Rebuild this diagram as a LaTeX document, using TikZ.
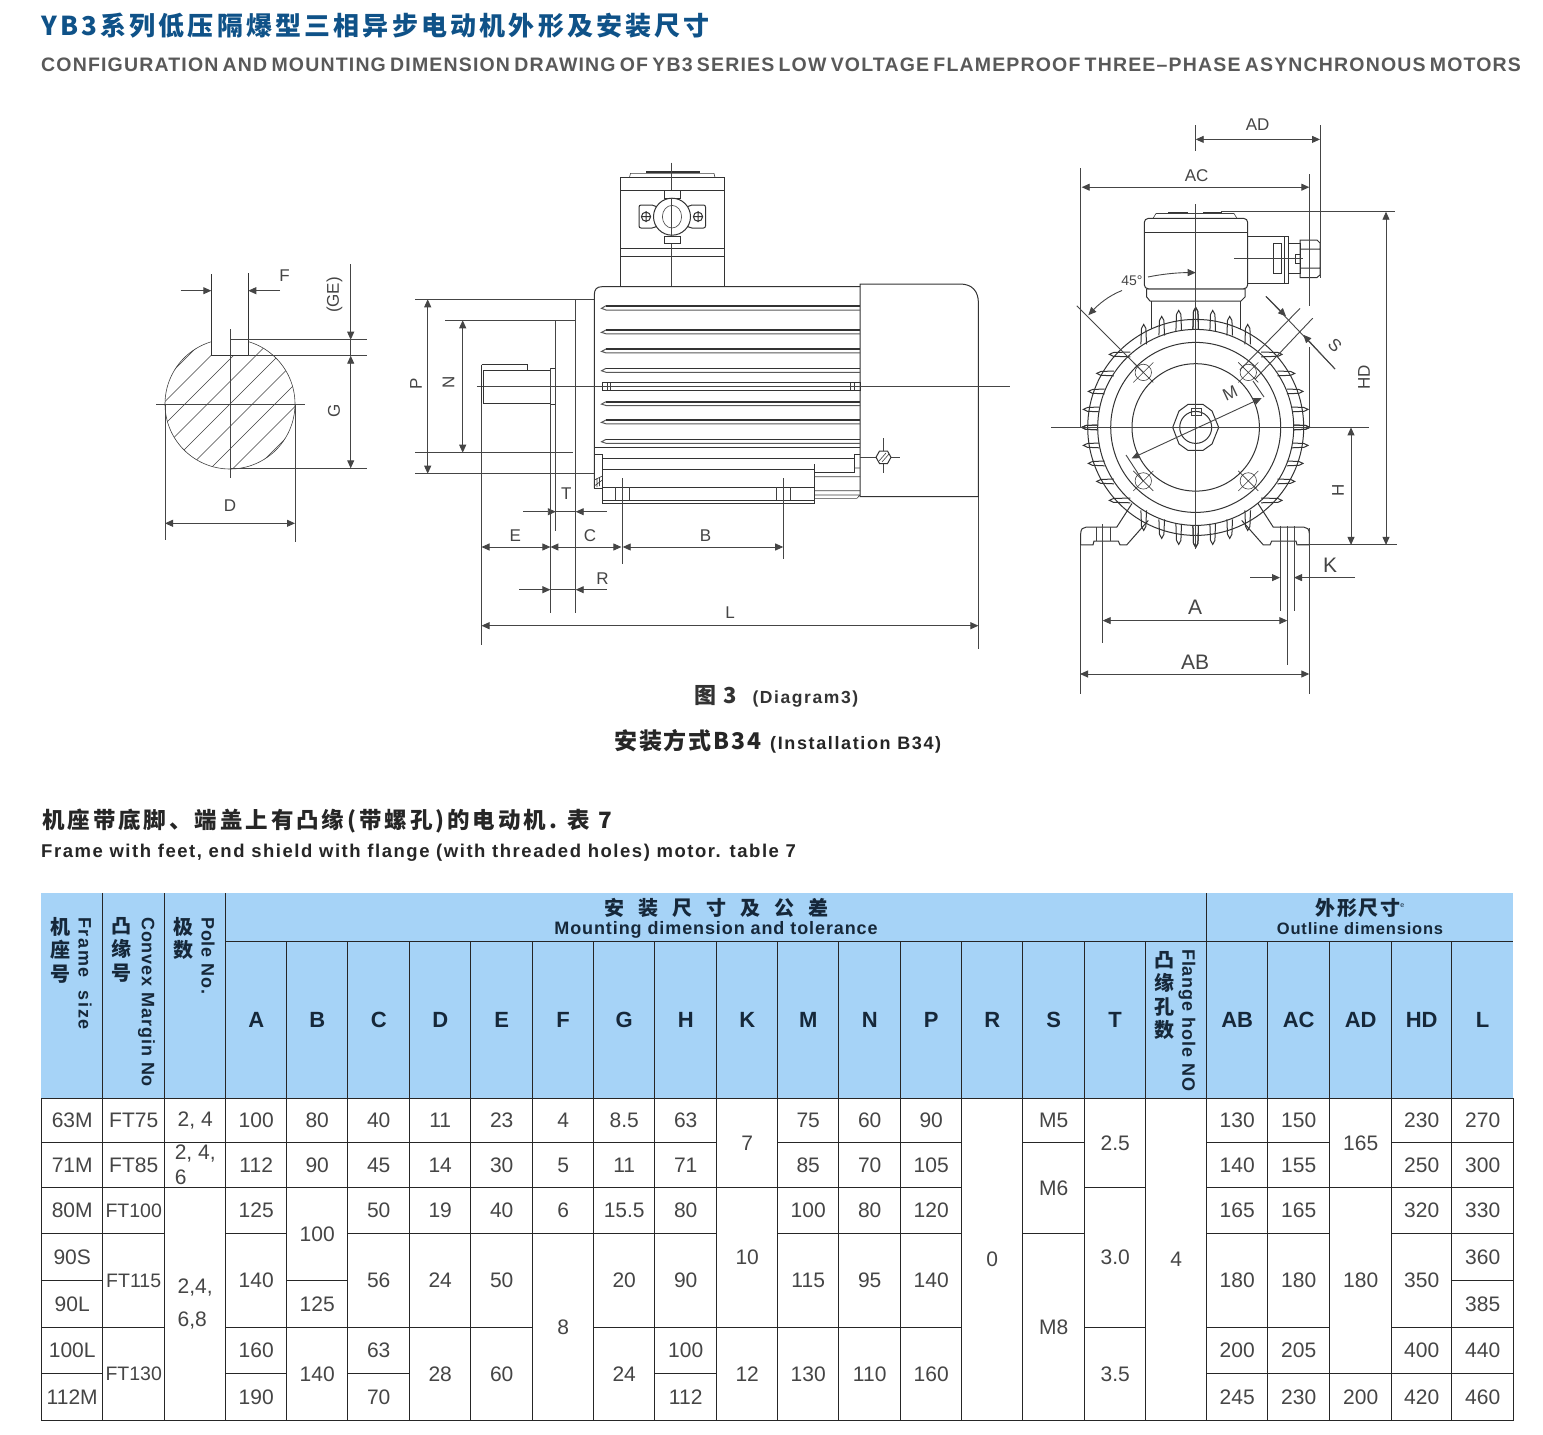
\documentclass[tikz,border=0pt]{standalone}
\usepackage{fontspec}
\setmainfont{Liberation Sans}
\newfontfamily\cjk{Noto Sans CJK SC}
\newfontfamily\wide[LetterSpace=5]{Liberation Sans}
\newfontfamily\wider[LetterSpace=9]{Liberation Sans}
\newfontfamily\medwide[LetterSpace=8.3]{Liberation Sans}
\newfontfamily\capsline[LetterSpace=6,WordSpace=0.65]{Liberation Sans}
\usetikzlibrary{arrows.meta}
\definecolor{headblue}{HTML}{A6D3F7}
\definecolor{titleblue}{HTML}{0F5288}
\definecolor{inkgray}{HTML}{454545}
\definecolor{headink}{HTML}{16283A}
\def\colx{{41,102,164,225,286,347,409,470,532,593,654,716,777,838,900,961,1022,1084,1145,1206,1267,1329,1391,1451,1513}}
\def\rowy{{1098,1142,1187,1233,1280,1327,1373,1420}}
\newcommand{\ftcell}[1]{\fontsize{19.5}{20}\selectfont #1}
\newcommand{\tabcol}[2]{%
  \foreach \ra/\rb/\txt in {#2}{%
    \pgfmathsetmacro\xa{\colx[#1]}%
    \pgfmathsetmacro\xb{\colx[#1+1]}%
    \pgfmathsetmacro\ya{\rowy[\ra]}%
    \pgfmathsetmacro\yb{\rowy[\rb+1]}%
    \draw[tabline] (\xa,\ya) rectangle (\xb,\yb);
    \node[cell] (cell#1-\ra) at ({(\xa+\xb)/2+0.7},{(\ya+\yb)/2+0.5}) {\txt};
  }}
\begin{document}
\begin{tikzpicture}[x=1pt,y=-1pt,>={Triangle[length=8pt,width=7pt]},
  part/.style={draw=black!80,line width=1pt},
  thin part/.style={draw=black!75,line width=0.6pt},
  dimline/.style={draw=inkgray,line width=0.9pt},
  dimlabel/.style={inner sep=0pt,text=inkgray,font=\fontsize{17}{17}\selectfont},
  biglabel/.style={dimlabel,font=\fontsize{21}{21}\selectfont},
  tabline/.style={draw=black!85,line width=0.9pt},
  cell/.style={inner sep=0pt,text=inkgray,align=left,font=\fontsize{21}{25}\selectfont},
  headcell/.style={inner sep=0pt,text=headink,font=\fontsize{22}{22}\selectfont\bfseries},
  headrot/.style={inner sep=0pt,text=headink,rotate=-90,anchor=west,font=\fontsize{18}{18}\wide\bfseries},
  headcjk/.style={inner sep=0pt,text=headink,anchor=north,align=center,font=\fontsize{20}{23.5}\cjk\bfseries}]
  \useasboundingbox (0,0) rectangle (1543,1435);
  \fill[white] (0,0) rectangle (1543,1435);

  \node[anchor=west,inner sep=0pt,text=titleblue] (title) at (41,26)
    {\fontsize{26}{26}\cjk\bfseries\addfontfeature{LetterSpace=12.2}YB3系列低压隔爆型三相异步电动机外形及安装尺寸};
  \node[anchor=west,inner sep=0pt,text=black!65] (subtitle) at (41,65)
    {\fontsize{19.5}{20}\capsline\bfseries CONFIGURATION AND MOUNTING DIMENSION DRAWING OF YB3 SERIES LOW VOLTAGE FLAMEPROOF THREE–PHASE ASYNCHRONOUS MOTORS};

  \draw[thin part] (230,404) circle[radius=65pt];
  \begin{scope}
    \clip plot[domain=106.5:433.5,samples=90] ({230+65*cos(\x)},{404-65*sin(\x)}) -- (248.3,355.3) -- (211.3,355.3) -- cycle;
    \foreach \k in {-4,...,4}
      \draw[thin part] ({634+\k*22.5-300},300) -- ({634+\k*22.5-500},500);
  \end{scope}
  \fill[white] (212,330) rectangle (248,354.8);
  \draw[part] (211.3,274) -- (211.3,355.3) -- (248.3,355.3) -- (248.3,273);
  \draw[dimline] (156,404) -- (305,404) (230,329) -- (230,478);
  \draw[dimline] (230,339.7) -- (366.7,339.7) (248.3,355.7) -- (366.7,355.7) (230,468.3) -- (366.7,468.3);
  \draw[dimline] (165,404) -- (165,540) (295,404) -- (295,541.7);
  \draw[dimline,->] (180.7,290.7) -- (211.3,290.7);
  \draw[dimline,->] (280,290.7) -- (248.3,290.7);
  \draw[dimline,->] (350.7,264) -- (350.7,339.7);
  \draw[dimline,<->] (350.7,355.7) -- (350.7,468.3);
  \draw[dimline] (350.7,339.7) -- (350.7,355.7);
  \draw[dimline,<->] (165,523.3) -- (295,523.3);
  \node[dimlabel] (lblF) at (284.5,276) {F};
  \node[dimlabel,rotate=90] (lblGE) at (334.5,295) {(GE)};
  \node[dimlabel,rotate=90] (lblG) at (334,410.5) {G};
  \node[dimlabel] (lblD) at (230,506) {D};

  \draw[part] (620,177.3) rectangle (724,286.7);
  \draw[part] (620,190.7) -- (724,190.7) (620,248.3) -- (724,248.3) (620,256.7) -- (724,256.7);
  \draw[thin part] (629.5,177.3) -- (630.5,173.3) -- (714,173.3) -- (715,177.3);
  \draw[part,line width=1.5pt] (646,172) -- (699.7,172);
  \draw[dimline] (671,162.7) -- (671,286.7);
  \draw[part,fill=white] (664,190.7) rectangle (680,198.3) (664,236) rectangle (680,243.3);
  \draw[part,fill=white,rounded corners=2pt] (639,205) -- (654,205) -- (660,210) -- (660,224) -- (654,228) -- (639,228) -- cycle;
  \draw[part,fill=white,rounded corners=2pt] (705.5,205) -- (690,205) -- (684,210) -- (684,224) -- (690,228) -- (705.5,228) -- cycle;
  \draw[part,fill=white] (672,216.7) circle[radius=18.5pt];
  \draw[thin part] (672,216.7) circle[x radius=9.6pt,y radius=11.3pt];
  \foreach \sx in {646,698}{
    \draw[part] (\sx,216.7) circle[radius=4.6pt] (\sx-5,216.7) -- (\sx+5,216.7) (\sx,211) -- (\sx,222);
  }
  \draw[dimline] (671,198.3) -- (671,236);

  \draw[part] (594.3,488.3) -- (594.3,295) .. controls (594.3,289) and (597,286.7) .. (602,286.7) -- (860,286.7);
  \draw[part] (860,284) -- (960,284) .. controls (972,284) and (978.4,291) .. (978.4,303) -- (978.4,496.7) -- (860,496.7) -- cycle;
  \foreach \ya/\yb in {305.7/310,330/333.8,349/352.9,368.3/372.3,401.7/405.5,420/423.8,439.3/443.3}{
    \draw[part,draw=black!65] (860,\yb) -- (606,\yb) -- (601.5,{(\ya+\yb)/2+0.5}) -- (606,\ya);
    \draw[part,line width=1.6pt] (606,\ya) -- (860,\ya);
  }
  \draw[part] (602,382.7) rectangle (860,390);
  \draw[thin part] (607,382.7) -- (607,390) (610.5,383) -- (610.5,390) (850,382.7) -- (850,390) (854,382.7) -- (854,390);
  \draw[dimline] (476.8,386.7) -- (1010,386.7);
  \draw[part] (594.3,447.3) -- (860,447.3) (602.4,458.3) -- (854,458.3);
  \draw[part] (594.3,454) -- (602.4,454) -- (602.4,488.3) -- (594.3,488.3);
  \draw[part] (602.4,469.3) rectangle (814.6,503.3);
  \draw[part] (602.4,487.3) -- (814.6,487.3) (602.4,500) -- (814.6,500) (814.6,464) -- (814.6,469.3);
  \draw[thin part] (615.3,487.3) -- (615.3,500) (629,487.3) -- (629,500) (776,487.3) -- (776,500) (790,487.3) -- (790,500);
  \draw[thin part] (594.3,480) -- (602.4,476) (594.3,486) -- (602.4,480) (597,478) -- (597,487) (599.5,477) -- (599.5,486);
  \draw[part] (814.6,472.7) -- (854,472.7) -- (854,454) -- (860,454);
  \draw[thin part] (854,468) -- (860,468) (814.6,476.7) -- (860,476.7) (814.6,490.7) -- (860,490.7) (814.6,495) -- (860,495) (814.6,498.3) -- (857,498.3) -- (860,495);
  \draw[dimline] (622.7,478.3) -- (622.7,564) (783.2,478.3) -- (783.2,559);
  \draw[dimline] (860,457.3) -- (900,457.3) (883.5,438) -- (883.5,473);
  \draw[part,fill=white] (876,457.3) -- (879.5,451) -- (887.5,451) -- (891,457.3) -- (887.5,463.5) -- (879.5,463.5) -- cycle;
  \draw[thin part] (879,461) -- (886,453) (882,462) -- (889,454);

  \draw[part] (550.4,368.3) -- (555.8,368.3) -- (555.8,404.3) -- (550.4,404.3);
  \draw[part] (481.5,364.7) -- (527.4,364.7) -- (527.4,370) -- (550.4,370);
  \draw[part] (481.5,364.7) -- (481.5,403.3);
  \draw[part] (483.5,370) -- (527.4,370) (483.5,370) -- (483.5,403.3) -- (550.4,403.3);
  \draw[dimline] (481.5,403.3) -- (481.5,645) (978.4,496.7) -- (978.4,649);
  \draw[dimline] (550.4,368.3) -- (550.4,612.7) (555.8,320.3) -- (555.8,530.7) (575.7,299.3) -- (575.7,612.7);
  \draw[dimline] (415,299.3) -- (594.3,299.3) (445,320.3) -- (575.7,320.3) (415,452.7) -- (573,452.7) (415,473.7) -- (594.3,473.7);
  \draw[dimline,<->] (427.7,299.3) -- (427.7,473.7);
  \draw[dimline,<->] (462.7,320.3) -- (462.7,452.7);
  \draw[dimline,->] (523.4,511.7) -- (555.8,511.7);
  \draw[dimline,->] (606.8,511.7) -- (575.7,511.7);
  \draw[dimline] (555.8,511.7) -- (575.7,511.7);
  \draw[dimline,<->] (481.5,547) -- (550.4,547);
  \draw[dimline,<->] (550.4,547) -- (621.4,547);
  \draw[dimline,<->] (622.7,547) -- (783.2,547);
  \draw[dimline,->] (519,589.7) -- (550.4,589.7);
  \draw[dimline,->] (606.8,589.7) -- (575.7,589.7);
  \draw[dimline] (550.4,589.7) -- (575.7,589.7);
  \draw[dimline,<->] (481.5,625.7) -- (978.4,625.7);
  \node[dimlabel,rotate=90] (lblP) at (416,384) {P};
  \node[dimlabel,rotate=90] (lblN) at (448.5,382.5) {N};
  \node[dimlabel] (lblT) at (566.3,494) {T};
  \node[dimlabel] (lblE) at (515.3,535.5) {E};
  \node[dimlabel] (lblC) at (590,536) {C};
  \node[dimlabel] (lblB) at (705.5,535.5) {B};
  \node[dimlabel] (lblR) at (602.4,578.3) {R};
  \node[dimlabel] (lblL) at (730,612.7) {L};

  \foreach \sx in {-1,1}{
    \begin{scope}[shift={(1195,0)},xscale=\sx]
      \draw[part] (114.3,544.9) -- (114.3,533.6) .. controls (114.3,529) and (112,527.2) .. (109,527.2) -- (78.3,527.2) -- (63,503.5);
      \draw[part] (114.3,544.9) -- (102,544.9) -- (101,541) -- (76.7,541) -- (75,544.9) -- (68.3,544.9) -- (46.7,520.4);
      \draw[thin part] (99,527.2) -- (99,541) (85,527.2) -- (85,541);
    \end{scope}
  }
  \foreach \sx in {-1,1}{
    \foreach \sy in {-1,1}{
      \begin{scope}[shift={(1195.7,427.4)},xscale=\sx,yscale=\sy]
        \foreach \dx/\tip in {0/120,17/117,34/111,52/103}{
          \pgfmathsetmacro\root{sqrt(98*98-\dx*\dx)}
          \draw[part] (\dx-2.8,\root) -- (\dx-2.2,\tip-4) -- (\dx,\tip) -- (\dx+2.2,\tip-4) -- (\dx+2.8,\root);
        }
        \foreach \dy/\tip in {0/114,18/112.3,36/107.3,54/99,73/86.3}{
          \pgfmathsetmacro\root{sqrt(98*98-\dy*\dy)}
          \draw[part] (\root,\dy-2.4) -- (\tip-4,\dy-1.9) -- (\tip,\dy) -- (\tip-4,\dy+1.9) -- (\root,\dy+2.4);
        }
      \end{scope}
    }
  }
  \draw[part] (1195.7,427.4) circle[radius=108pt];
  \draw[part] (1195.7,427.4) circle[radius=98pt];
  \draw[part] (1195.7,427.4) circle[radius=85pt];
  \draw[part] (1195.7,427.4) circle[radius=63.7pt];
  \draw[part] (1172.7,427.4) -- (1179,411) -- (1188,404.4) -- (1203,404.4) -- (1212,411) -- (1218.7,427.4) -- (1212,444) -- (1203,450.4) -- (1188,450.4) -- (1179,444) -- cycle;
  \draw[part] (1195.7,427.4) circle[radius=16pt];
  \draw[thin part] (1191.7,408) rectangle (1201,415);
  \foreach \hx/\hy in {1143.3/372.4,1248.3/372.4,1143.3/480.9,1248.3/480.9}{
    \draw[thin part] (\hx,\hy) circle[radius=8.2pt] (\hx-10,\hy-10) -- (\hx+10,\hy+10) (\hx-10,\hy+10) -- (\hx+10,\hy-10);
  }
  \draw[part,fill=white] (1146.7,288.8) -- (1146.7,297) -- (1150,301) -- (1241,301) -- (1245,297) -- (1245,288.8) -- cycle;
  \draw[part] (1151,301) -- (1151,329) (1240,301) -- (1240,329);
  \draw[part,fill=white,rounded corners=4pt] (1144.3,218.4) rectangle (1247.7,288.8);
  \draw[part] (1144.3,232.4) -- (1247.7,232.4);
  \draw[thin part] (1153,218.4) -- (1156,213.5) -- (1234,213.5) -- (1237,218.4);
  \draw[part,line width=1.4pt] (1168,212.3) -- (1188,212.3) (1203,212.3) -- (1222,212.3);
  \draw[part] (1247.7,236) -- (1285,236) (1247.7,283) -- (1285,283);
  \draw[part] (1273.3,243.7) rectangle (1281.7,273.8) (1284,236) rectangle (1288,283) (1288,243) rectangle (1300,273) (1295,254) rectangle (1300,263);
  \draw[part] (1300,240) -- (1317,240) -- (1320,243) -- (1320,275) -- (1317,277.5) -- (1300,277.5) -- cycle (1300,249) -- (1320,249) (1300,268) -- (1320,268);
  \draw[dimline] (1234.3,258) -- (1303,258);

  \draw[dimline] (1051,427.4) -- (1369.3,427.4) (1195.7,204) -- (1195.7,548.6) (1195.7,125) -- (1195.7,151.4);
  \draw[dimline] (1320,125) -- (1320,277.5) (1080.7,168.4) -- (1080.7,427.4) (1309.3,174) -- (1309.3,305.8) (1309.3,347) -- (1309.3,427.4);
  \draw[dimline] (1221,211.7) -- (1395,211.7) (1298,544.9) -- (1397.3,544.9);
  \draw[dimline] (1080,544.9) -- (1080,693.6) (1309.3,528) -- (1309.3,693.6);
  \draw[dimline] (1102.7,524) -- (1102.7,642.8) (1287.3,526) -- (1287.3,665.4) (1280,526) -- (1280,610.8) (1294,526) -- (1294,610.8);
  \draw[dimline,<->] (1195.7,139.4) -- (1320,139.4);
  \draw[dimline,<->] (1081.7,187.2) -- (1309.3,187.2);
  \draw[dimline,<->] (1386,211.7) -- (1386,544.9);
  \draw[dimline,<->] (1351,427.4) -- (1351,544.9);
  \draw[dimline,->] (1250,577.6) -- (1280,577.6);
  \draw[dimline,->] (1355,577.6) -- (1294,577.6);
  \draw[dimline,<->] (1102.7,620.6) -- (1287.3,620.6);
  \draw[dimline,<->] (1080,674) -- (1309.3,674);
  \draw[dimline,->] (1148,277) .. controls (1165,273.5) and (1180,272.6) .. (1195.7,272.6);
  \draw[dimline,->] (1122,290.5) .. controls (1108,296) and (1098,305) .. (1088.3,315.2);
  \draw[dimline] (1076.7,305.8) -- (1143.3,372.4);
  \draw[dimline,<->] (1131.7,458.3) -- (1261.7,398);
  \draw[dimline] (1253,381) -- (1264,397) (1126,455) -- (1143,481);
  \draw[dimline] (1240,369.8) -- (1300,308.4) (1255,379.2) -- (1312.7,318.2);
  \draw[dimline] (1266,296.4) -- (1335,369);
  \draw[dimline,->] (1266,296.4) -- (1286,316.3);
  \draw[dimline,->] (1335,369) -- (1303.3,334.8);
  \node[dimlabel] (lblAD) at (1257.7,124.3) {AD};
  \node[dimlabel] (lblAC) at (1196.7,176) {AC};
  \node[dimlabel,rotate=90] (lblHD) at (1364,377.3) {HD};
  \node[dimlabel,rotate=90] (lblH) at (1338,490.3) {H};
  \node[biglabel] (lblK) at (1330,565.6) {K};
  \node[biglabel] (lblA) at (1195,607) {A};
  \node[biglabel] (lblAB) at (1195,662.7) {AB};
  \node[dimlabel,font=\fontsize{14}{14}\selectfont] (lbl45) at (1132,281) {45°};
  \node[dimlabel,rotate=25] (lblM) at (1230,393) {M};
  \node[dimlabel,rotate=-45] (lblS) at (1335,345) {S};

  \node[anchor=west,inner sep=0pt,text=black!80] (capA) at (694,696)
    {\fontsize{22}{22}\cjk\bfseries 图\hspace{7pt}3\hspace{16pt}\fontsize{17.5}{18}\wider\bfseries(Diagram3)};
  \node[anchor=west,inner sep=0pt,text=black!85] (capB) at (614,741)
    {\fontsize{23}{23}\cjk\bfseries\addfontfeature{LetterSpace=8}安装方式B34\hspace{9pt}\fontsize{18}{18}\wider\bfseries(Installation B34)};
  \node[anchor=west,inner sep=0pt,text=black!85] (capC) at (42,821)
    {\fontsize{22.5}{23}\cjk\bfseries\addfontfeature{LetterSpace=13}机座带底脚、端盖上有凸缘(带螺孔)的电动机. 表 7};
  \node[anchor=west,inner sep=0pt,text=black!85] (capD) at (41,852.5)
    {\fontsize{18.5}{19}\medwide\bfseries Frame with feet, end shield with flange (with threaded holes) motor. table 7};

  \fill[headblue] (41,893) rectangle (1513,1098);
  \draw[tabline,line width=0.7pt] (225,941) -- (1513,941);
  \foreach \c in {1,2,3,19}{
    \pgfmathsetmacro\xa{\colx[\c]}
    \draw[tabline,line width=0.7pt] (\xa,893) -- (\xa,1098);
  }
  \foreach \c in {4,...,18,20,21,22,23}{
    \pgfmathsetmacro\xa{\colx[\c]}
    \draw[tabline,line width=0.7pt] (\xa,941) -- (\xa,1098);
  }
  \foreach \c/\txt in {3/A,4/B,5/C,6/D,7/E,8/F,9/G,10/H,11/K,12/M,13/N,14/P,15/R,16/S,17/T,19/AB,20/AC,21/AD,22/HD,23/L}{
    \pgfmathsetmacro\xa{\colx[\c]}
    \pgfmathsetmacro\xb{\colx[\c+1]}
    \node[headcell] (head\c) at ({(\xa+\xb)/2+0.7},1019.5) {\txt};
  }
  \node[headcjk] (headFrame) at (60,917) {机\\座\\号};
  \node[headrot,font=\fontsize{18}{18}\wider\bfseries] (headFrameEn) at (85,917) {Frame\ \ size};
  \node[headcjk] (headConvex) at (121,917) {凸\\缘\\号};
  \node[headrot] (headConvexEn) at (146.5,917) {Convex Margin No};
  \node[headcjk] (headPole) at (183,917) {极\\数};
  \node[headrot] (headPoleEn) at (208,917) {Pole No.};
  \node[headcjk] (headFlange) at (1164,951) {凸\\缘\\孔\\数};
  \node[headrot] (headFlangeEn) at (1187,949) {Flange hole NO};
  \node[inner sep=0pt,text=headink] (headMount) at (716,908)
    {\fontsize{20}{20}\cjk\bfseries 安\hspace{14pt}装\hspace{14pt}尺\hspace{14pt}寸\hspace{14pt}及\hspace{14pt}公\hspace{14pt}差};
  \node[inner sep=0pt,text=headink] (headMountEn) at (716,929.5)
    {\fontsize{18}{18}\wide\bfseries Mounting dimension and tolerance};
  \node[inner sep=0pt,text=headink] (headOut) at (1360,908)
    {\fontsize{20}{20}\cjk\bfseries\addfontfeature{LetterSpace=8}外形尺寸\raisebox{8pt}{\fontsize{7}{7}\normalfont e}};
  \node[inner sep=0pt,text=headink] (headOutEn) at (1360,929)
    {\fontsize{16.5}{17}\wide\bfseries Outline dimensions};

  \tabcol{0}{0/0/63M,1/1/71M,2/2/80M,3/3/90S,4/4/90L,5/5/100L,6/6/112M}
  \tabcol{1}{0/0/FT75,1/1/FT85,2/2/\ftcell{FT100},3/4/\ftcell{FT115},5/6/\ftcell{FT130}}
  \tabcol{2}{0/0/{2, 4},1/1/{2, 4,\\6},2/6/{2,4,\\[8pt]6,8}}
  \tabcol{3}{0/0/100,1/1/112,2/2/125,3/4/140,5/5/160,6/6/190}
  \tabcol{4}{0/0/80,1/1/90,2/3/100,4/4/125,5/6/140}
  \tabcol{5}{0/0/40,1/1/45,2/2/50,3/4/56,5/5/63,6/6/70}
  \tabcol{6}{0/0/11,1/1/14,2/2/19,3/4/24,5/6/28}
  \tabcol{7}{0/0/23,1/1/30,2/2/40,3/4/50,5/6/60}
  \tabcol{8}{0/0/4,1/1/5,2/2/6,3/6/8}
  \tabcol{9}{0/0/8.5,1/1/11,2/2/15.5,3/4/20,5/6/24}
  \tabcol{10}{0/0/63,1/1/71,2/2/80,3/4/90,5/5/100,6/6/112}
  \tabcol{11}{0/1/7,2/4/10,5/6/12}
  \tabcol{12}{0/0/75,1/1/85,2/2/100,3/4/115,5/6/130}
  \tabcol{13}{0/0/60,1/1/70,2/2/80,3/4/95,5/6/110}
  \tabcol{14}{0/0/90,1/1/105,2/2/120,3/4/140,5/6/160}
  \tabcol{15}{0/6/0}
  \tabcol{16}{0/0/M5,1/2/M6,3/6/M8}
  \tabcol{17}{0/1/2.5,2/4/3.0,5/6/3.5}
  \tabcol{18}{0/6/4}
  \tabcol{19}{0/0/130,1/1/140,2/2/165,3/4/180,5/5/200,6/6/245}
  \tabcol{20}{0/0/150,1/1/155,2/2/165,3/4/180,5/5/205,6/6/230}
  \tabcol{21}{0/1/165,2/5/180,6/6/200}
  \tabcol{22}{0/0/230,1/1/250,2/2/320,3/4/350,5/5/400,6/6/420}
  \tabcol{23}{0/0/270,1/1/300,2/2/330,3/3/360,4/4/385,5/5/440,6/6/460}
\end{tikzpicture}
\end{document}
